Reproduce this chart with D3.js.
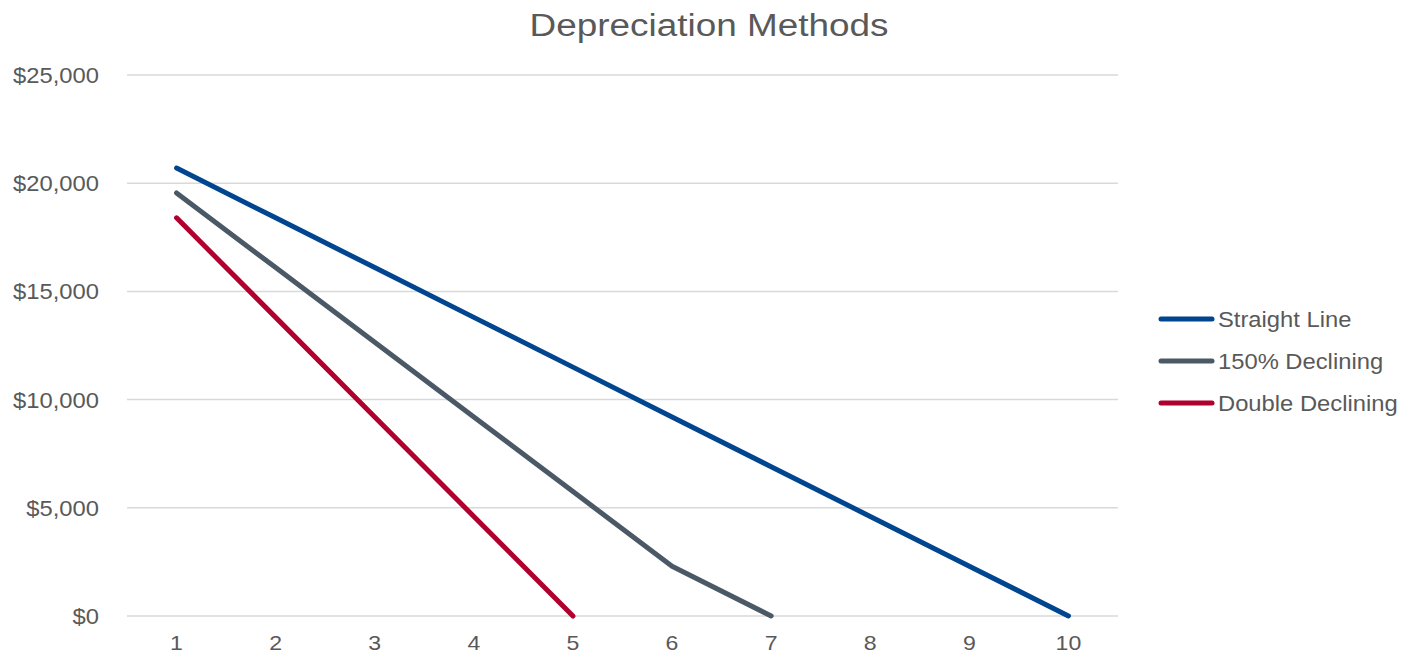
<!DOCTYPE html>
<html><head><meta charset="utf-8">
<script src="https://cdn.jsdelivr.net/npm/d3@7"></script>
<style>body{margin:0;background:#fff;}text{font-family:"Liberation Sans",Arial,sans-serif;fill:#595959;}</style>
</head><body><svg id="c" width="1408" height="656"></svg>
<script>
const title = "Depreciation Methods";
const years = ["1","2","3","4","5","6","7","8","9","10"];
const seriesNames = ["Straight Line","150% Declining","Double Declining"];
const straightLine = [20700,18400,16100,13800,11500,9200,6900,4600,2300,0];
const declining150 = [19550,16100,12650,9200,5750,2300,0,null,null,null];
const doubleDeclining = [18400,13800,9200,4600,0,null,null,null,null,null];
const yTicks = [0,5000,10000,15000,20000,25000];
const colors = ["#004590","#4A5965","#B0002E"];
const seriesValues = [straightLine, declining150, doubleDeclining];

const svg = d3.select("#c");
function stretch(k){ return sel=>sel.each(function(){ const w=this.getComputedTextLength(); d3.select(this).attr("textLength", w*k).attr("lengthAdjust","spacingAndGlyphs"); }); }

const x = d3.scaleBand().domain(years).range([127,1118]);
const y = d3.scaleLinear().domain([0,25000]).range([616,75]);

// grid
svg.append("g").selectAll("line").data(yTicks).join("line")
  .attr("x1",127).attr("x2",1118).attr("y1",d=>y(d)).attr("y2",d=>y(d))
  .attr("stroke","#D9D9D9").attr("stroke-width",1.5);

// y axis labels
const fmt = d3.format("$,");
svg.append("g").selectAll("text").data(yTicks).join("text")
  .attr("x",99).attr("y",d=>y(d)+8).attr("text-anchor","end").attr("font-size",22)
  .text(d=>fmt(d)).call(stretch(1.08));

// x labels
svg.append("g").selectAll("text").data(years).join("text")
  .attr("x",d=>x(d)+x.bandwidth()/2).attr("y",650).attr("text-anchor","middle").attr("font-size",21)
  .text(d=>d).call(stretch(1.1));

// lines
const line = d3.line().defined(d=>d.v!=null).x(d=>x(d.c)+x.bandwidth()/2).y(d=>y(d.v));
seriesValues.forEach((vals,i)=>{
  svg.append("path").datum(vals.map((v,j)=>({c:years[j],v})))
    .attr("d",line).attr("fill","none").attr("stroke",colors[i]).attr("stroke-width",5)
    .attr("stroke-linecap","round").attr("stroke-linejoin","round");
});

// title
svg.append("text").attr("x",709).attr("y",36).attr("text-anchor","middle").attr("font-size",31)
  .text(title).call(stretch(1.19));

// legend
const lg = svg.append("g").selectAll("g").data(seriesNames).join("g")
  .attr("transform",(d,i)=>`translate(0,${319+i*42})`);
lg.append("line").attr("x1",1161).attr("x2",1212).attr("y1",0).attr("y2",0)
  .attr("stroke",(d,i)=>colors[i]).attr("stroke-width",5).attr("stroke-linecap","round");
lg.append("text").attr("x",1218).attr("y",8).attr("font-size",22).text(d=>d).call(stretch(1.08));
</script></body></html>
